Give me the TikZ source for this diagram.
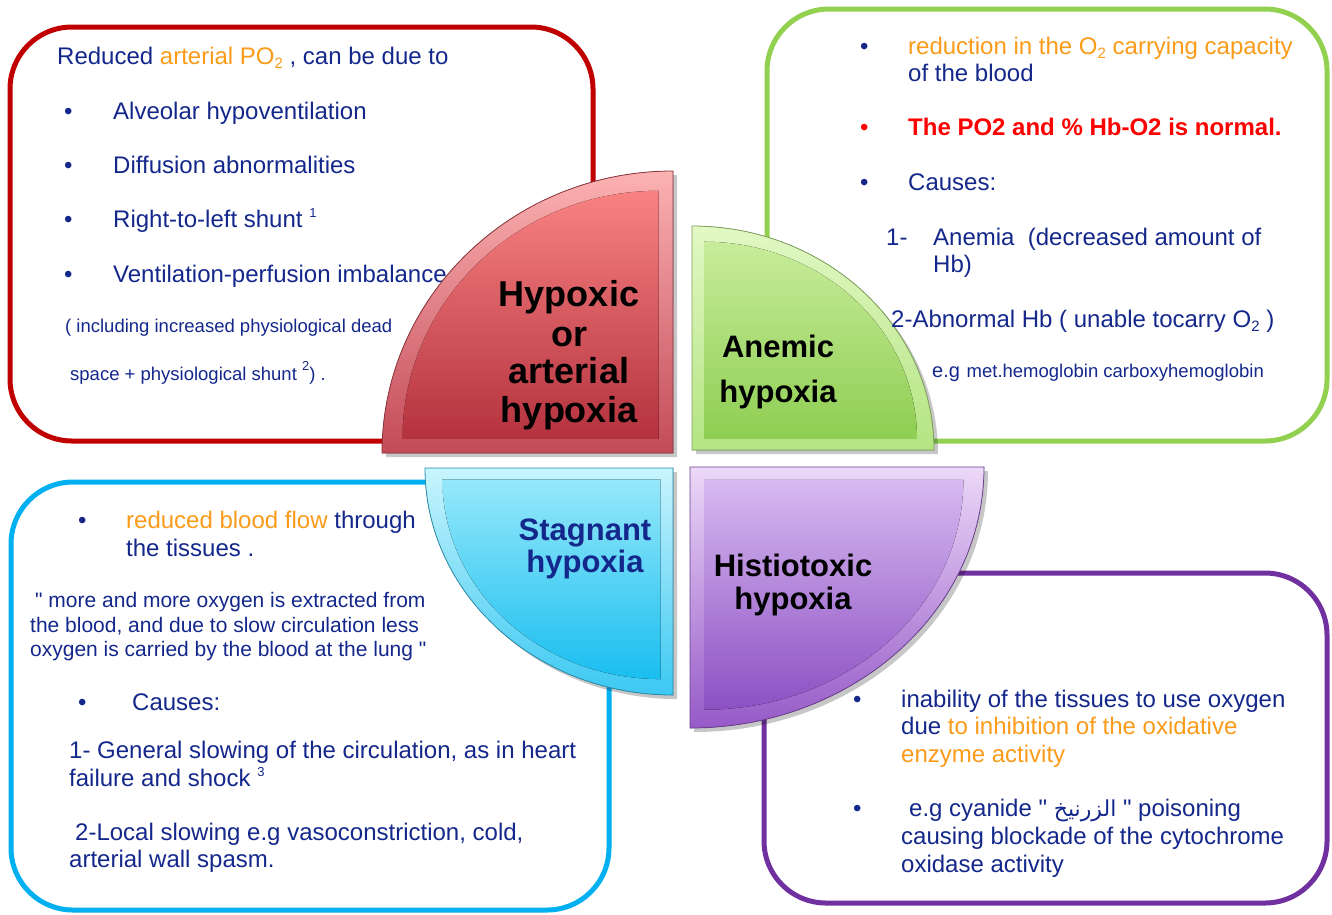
\documentclass[tikz,border=0pt]{standalone}
\usepackage{fontspec}
\setmainfont{Liberation Sans}[Ligatures=TeXOff]
\newfontfamily\arabicfont[Script=Arabic]{DejaVu Sans}
\TeXXeTstate=1
\usepackage{tikz}

\definecolor{navy}{RGB}{20,40,140}
\definecolor{orng}{RGB}{250,155,25}
\definecolor{hotred}{RGB}{255,0,0}
\definecolor{redline}{RGB}{192,0,0}
\definecolor{greenline}{RGB}{146,208,80}
\definecolor{blueline}{RGB}{0,176,240}
\definecolor{purpleline}{RGB}{112,48,160}
\definecolor{redA}{RGB}{252,178,178}
\definecolor{redB}{RGB}{195,75,88}
\definecolor{redC}{RGB}{248,130,130}
\definecolor{redD}{RGB}{180,50,62}
\definecolor{greenA}{RGB}{226,248,196}
\definecolor{greenB}{RGB}{180,228,130}
\definecolor{greenC}{RGB}{200,236,155}
\definecolor{greenD}{RGB}{142,206,82}
\definecolor{blueA}{RGB}{200,245,253}
\definecolor{blueB}{RGB}{60,200,242}
\definecolor{blueC}{RGB}{150,232,250}
\definecolor{blueD}{RGB}{25,190,240}
\definecolor{purpleA}{RGB}{236,216,248}
\definecolor{purpleB}{RGB}{150,90,200}
\definecolor{purpleC}{RGB}{215,185,240}
\definecolor{purpleD}{RGB}{140,80,195}

\newcommand{\subs}[1]{\raisebox{-4pt}{\fontsize{15}{15}\selectfont #1}}
\newcommand{\sups}[1]{\raisebox{10pt}{\fontsize{13}{13}\selectfont #1}}

\newcommand{\qred}{(673,-453) -- (382,-453) arc[start angle=180, end angle=90, x radius=291, y radius=282] -- cycle}
\newcommand{\qgreen}{(692,-450) -- (934,-450) arc[start angle=0, end angle=90, x radius=242, y radius=224] -- cycle}
\newcommand{\qblue}{(673,-468) -- (673,-695) arc[start angle=270, end angle=180, x radius=248, y radius=227] -- cycle}
\newcommand{\qpurple}{(690,-467) -- (984,-467) arc[start angle=0, end angle=-90, x radius=294, y radius=261] -- cycle}
\newcommand{\drawquarter}[3]{%
  \fill[black, opacity=.22, shift={(4,-4)}] #1;
  \fill[top color=#3A, bottom color=#3B] #1;
  \fill[top color=#3C, bottom color=#3D, scale around={.88:(#2)}] #1;
  \draw[#3B!70!black, line width=.8] #1;}

\tikzstyle{box}=[line width=5, rounded corners=62]
\tikzstyle{txt}=[anchor=base west, inner sep=0, text=navy, font=\fontsize{24}{28}\selectfont]
\tikzstyle{sml}=[txt, font=\fontsize{18.5}{22}\selectfont]
\tikzstyle{quote}=[txt, font=\fontsize{21}{24}\selectfont]
\tikzstyle{lbl}=[anchor=base, inner sep=0, font=\bfseries\fontsize{36}{38}\selectfont]
\tikzstyle{lbl2}=[lbl, font=\bfseries\fontsize{31}{34}\selectfont]

\begin{document}
\begin{tikzpicture}[x=1pt, y=1pt]
\fill[white] (0,0) rectangle (1332,-914);
\useasboundingbox (0,0) rectangle (1332,-914);

\draw[box, redline] (10,-27) rectangle (593,-441);
\draw[box, greenline] (767,-9) rectangle (1327,-441);
\draw[box, blueline] (11,-482) rectangle (609,-910);
\draw[box, purpleline] (764,-573) rectangle (1327,-903);

\node[txt] (r0) at (57,-64) {Reduced \textcolor{orng}{arterial PO\subs{2}} , can be due to};
\node[txt] (rb1) at (64,-119) {•};
\node[txt] (r1) at (113,-119) {Alveolar hypoventilation};
\node[txt] (rb2) at (64,-173) {•};
\node[txt] (r2) at (113,-173) {Diffusion abnormalities};
\node[txt] (rb3) at (64,-227) {•};
\node[txt] (r3) at (113,-227) {Right-to-left shunt \sups{1}};
\node[txt] (rb4) at (64,-282) {•};
\node[txt] (r4) at (113,-282) {Ventilation-perfusion imbalance};
\node[sml] (r5) at (65,-332) {( including increased physiological dead};
\node[sml] (r6) at (70,-380) {space + physiological shunt \sups{2}) .};

\drawquarter{\qred}{553,-336}{red}
\drawquarter{\qgreen}{792,-357}{green}
\drawquarter{\qblue}{570,-562}{blue}
\drawquarter{\qpurple}{812,-575}{purple}

\node[lbl] (lr1) at (569,-306) {Hypoxic};
\node[lbl] (lr2) at (569,-346) {or};
\node[lbl] (lr3) at (569,-383) {arterial};
\node[lbl] (lr4) at (569,-422) {hypoxia};
\node[lbl2] (la1) at (778,-357) {Anemic};
\node[lbl2] (la2) at (778,-402) {hypoxia};
\node[lbl2, text=navy] (ls1) at (585,-540) {Stagnant};
\node[lbl2, text=navy] (ls2) at (585,-572) {hypoxia};
\node[lbl2] (lh1) at (793,-576) {Histiotoxic};
\node[lbl2] (lh2) at (793,-609) {hypoxia};

\node[txt] (gb1) at (860,-54) {•};
\node[txt, text=orng] (g1) at (908,-54) {reduction in the O\subs{2} carrying capacity};
\node[txt] (g2) at (908,-81) {of the blood};
\node[txt, text=hotred] (gb2) at (860,-135) {•};
\node[txt, text=hotred, font=\bfseries\fontsize{24}{28}\selectfont] (g3) at (908,-135) {The PO2 and \% Hb-O2 is normal.};
\node[txt] (gb3) at (860,-190) {•};
\node[txt] (g4) at (908,-190) {Causes:};
\node[txt] (g5n) at (886,-245) {1-};
\node[txt] (g5) at (933,-245) {Anemia\ \ (decreased amount of};
\node[txt] (g6) at (933,-272) {Hb)};
\node[txt] (g7) at (891,-327) {2-Abnormal Hb ( unable tocarry O\subs{2} )};
\node[txt] (g8) at (932,-377) {{\fontsize{20}{22}\selectfont e.g} {\fontsize{18.5}{22}\selectfont met.hemoglobin carboxyhemoglobin}};

\node[txt] (sb1) at (78,-528) {•};
\node[txt] (s1) at (126,-528) {\textcolor{orng}{reduced blood flow} through};
\node[txt] (s2) at (126,-556) {the tissues .};
\node[quote] (s3) at (35,-607) {" more and more oxygen is extracted from};
\node[quote] (s4) at (30,-632) {the blood, and due to slow circulation less};
\node[quote] (s5) at (30,-656) {oxygen is carried by the blood at the lung "};
\node[txt] (sb2) at (78,-710) {•};
\node[txt] (s6) at (132,-710) {Causes:};
\node[txt] (s7) at (69,-758) {1- General slowing of the circulation, as in heart};
\node[txt] (s8) at (69,-786) {failure and shock \sups{3}};
\node[txt] (s9) at (75,-840) {2-Local slowing e.g vasoconstriction, cold,};
\node[txt] (s10) at (69,-867) {arterial wall spasm.};

\node[txt] (hb1) at (853,-707) {•};
\node[txt] (h1) at (901,-707) {inability of the tissues to use oxygen};
\node[txt] (h2) at (901,-734) {due \textcolor{orng}{to inhibition of the oxidative}};
\node[txt, text=orng] (h3) at (901,-762) {enzyme activity};
\node[txt] (hb2) at (853,-816) {•};
\node[txt] (h4) at (909,-816) {e.g cyanide " {\arabicfont\fontsize{22}{24}\selectfont\beginR الزرنيخ\endR} " poisoning};
\node[txt] (h5) at (901,-844) {causing blockade of the cytochrome};
\node[txt] (h6) at (901,-872) {oxidase activity};
\end{tikzpicture}
\end{document}
